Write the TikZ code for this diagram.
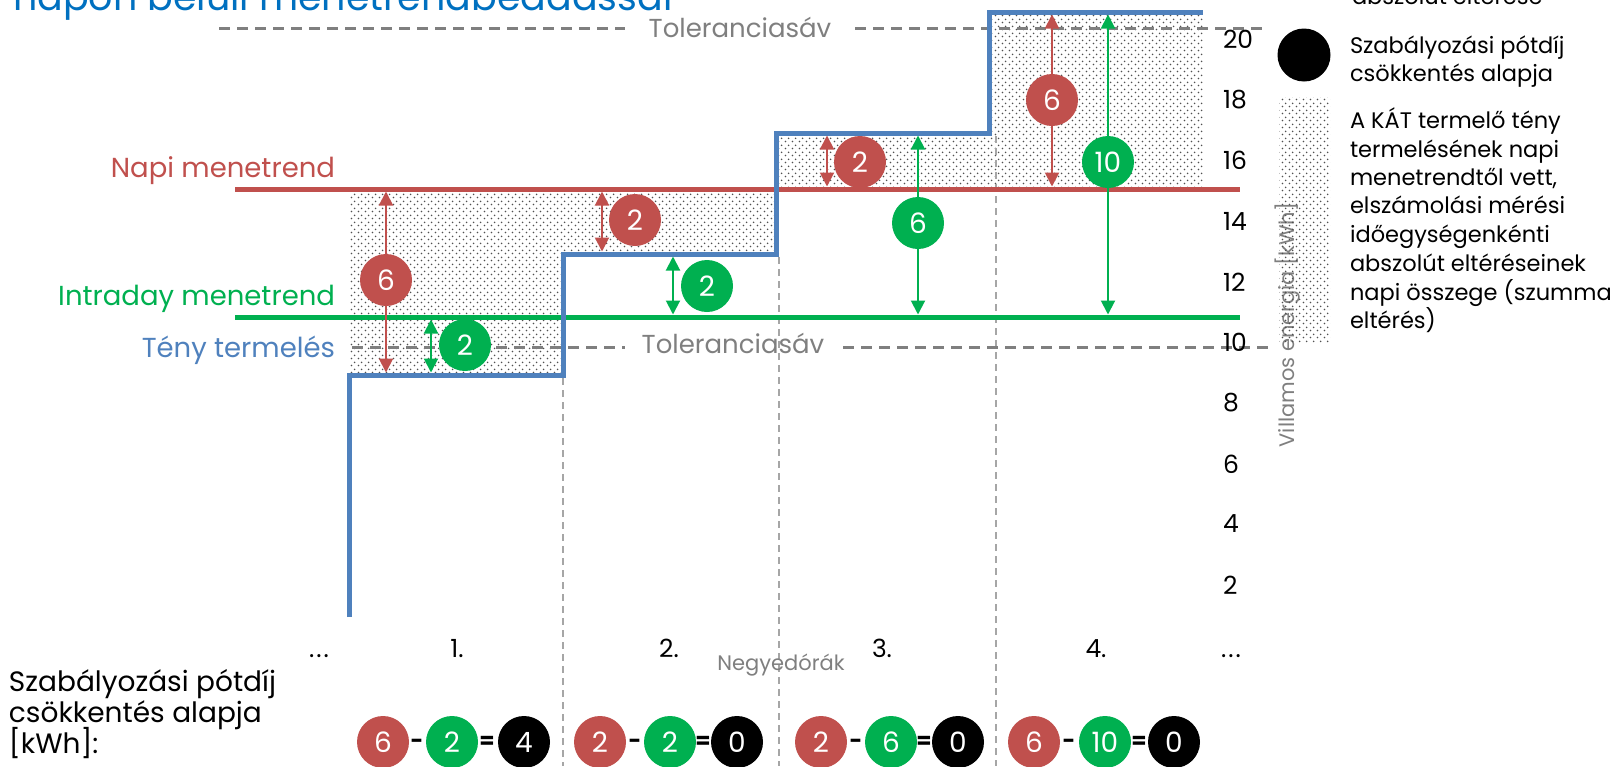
\documentclass[tikz,border=0pt]{standalone}
\usepackage{fontspec}
\setmainfont{Poppins}
\usetikzlibrary{arrows.meta,patterns.meta}
\definecolor{cRed}{HTML}{C0504D}
\definecolor{cGreen}{HTML}{00B050}
\definecolor{cBlue}{HTML}{4F81BD}
\definecolor{cTitle}{HTML}{0070C0}
\definecolor{cGray}{HTML}{7F7F7F}
\definecolor{cDiv}{HTML}{A6A6A6}
\definecolor{cDot}{HTML}{505050}
\newcommand\setfs[1]{\fontsize{#1}{#1}\selectfont}
\tikzdeclarepattern{
  name=kdots, type=colored,
  bottom left={(0pt,0pt)}, top right={(7pt,7pt)}, tile size={(7pt,7pt)},
  code={\fill[cDot] (1.75pt,1.75pt) circle (1pt); \fill[cDot] (5.25pt,5.25pt) circle (1pt);}
}
\tikzset{
  txt/.style={inner sep=0pt, outer sep=0pt},
  badge/.style={circle, fill=#1, text=white, minimum size=52pt, inner sep=0pt, font=\setfs{28}},
  dimarrow/.style={draw=#1, line width=2pt, {Triangle[length=14pt,width=14pt]}-{Triangle[length=14pt,width=14pt]}},
  dotted area/.style={pattern=kdots},
  tolline/.style={draw=cGray, line width=3pt, dash pattern=on 11pt off 7pt},
  divline/.style={draw=cDiv, line width=1.5pt, dash pattern=on 7pt off 5pt},
  schedline/.style={line width=5pt},
  op/.style={txt, font=\bfseries\setfs{22}},
  ytick/.style={txt, anchor=west, font=\setfs{25}},
  period/.style={txt, anchor=base, font=\setfs{25}},
  legtext/.style={txt, anchor=base west, font=\setfs{22.5}},
  tollabel/.style={txt, anchor=base, text=cGray, font=\setfs{26}},
  linelabel/.style={txt, anchor=base east, font=\setfs{27.5}},
  calctext/.style={txt, anchor=base west, font=\setfs{28}},
}
\begin{document}
\begin{tikzpicture}[x=1pt,y=-1pt]
\useasboundingbox (0,0) rectangle (1612,766);
\clip (0,0) rectangle (1612,766);
% dotted deviation areas
\fill[dotted area] (349,189) rectangle (563,375);
\fill[dotted area] (563,189) rectangle (776,254);
\fill[dotted area] (776,133) rectangle (989,189);
\fill[dotted area] (989,12) rectangle (1203,189);
% period dividers
\draw[divline] (563,378) -- (563,766);
\draw[divline] (779,257) -- (779,766);
\draw[divline] (996,136) -- (996,766);
% tolerance band
\draw[tolline] (219,28) -- (625,28);
\draw[tolline] (855,28) -- (1268,28);
\draw[tolline] (352,347) -- (625,347);
\draw[tolline] (843,347) -- (1268,347);
\node[tollabel] (tolTop) at (740,37) {Toleranciasáv};
\node[tollabel] (tolBot) at (733,353) {Toleranciasáv};
% schedules
\draw[schedline, cRed] (235,189) -- (1240,189);
\draw[schedline, cGreen] (235,317) -- (1240,317);
\draw[schedline, cBlue, line join=miter] (349,617) -- (349,375) -- (563,375) -- (563,254) -- (776,254) -- (776,133) -- (989,133) -- (989,12) -- (1203,12);
% line labels
\node[linelabel, text=cRed] (lNapi) at (335,177) {Napi menetrend};
\node[linelabel, text=cGreen] (lIntra) at (335,305) {Intraday menetrend};
\node[linelabel, text=cBlue] (lTeny) at (335,357) {Tény termelés};
% arrow end points
\coordinate (a1t) at (386,191.5); \coordinate (a1b) at (386,372.5);
\coordinate (b1t) at (431,319.5); \coordinate (b1b) at (431,372.5);
\coordinate (a2t) at (602,191.5); \coordinate (a2b) at (602,251.5);
\coordinate (b2t) at (673,256.5); \coordinate (b2b) at (673,314.5);
\coordinate (a3t) at (827,135.5); \coordinate (a3b) at (827,186.5);
\coordinate (b3t) at (918,135.5); \coordinate (b3b) at (918,314.5);
\coordinate (a4t) at (1052,14.5); \coordinate (a4b) at (1052,186.5);
\coordinate (b4t) at (1108,14.5); \coordinate (b4b) at (1108,314.5);
\draw[dimarrow=cRed] (a1t) -- (a1b);
\draw[dimarrow=cGreen] (b1t) -- (b1b);
\draw[dimarrow=cRed] (a2t) -- (a2b);
\draw[dimarrow=cGreen] (b2t) -- (b2b);
\draw[dimarrow=cRed] (a3t) -- (a3b);
\draw[dimarrow=cGreen] (b3t) -- (b3b);
\draw[dimarrow=cRed] (a4t) -- (a4b);
\draw[dimarrow=cGreen] (b4t) -- (b4b);
\node[badge=cRed] (c1r) at (386,280) {6};
\node[badge=cGreen] (c1g) at (465,345) {2};
\node[badge=cRed] (c2r) at (635,220) {2};
\node[badge=cGreen] (c2g) at (707,286) {2};
\node[badge=cRed] (c3r) at (860,162) {2};
\node[badge=cGreen] (c3g) at (918,223) {6};
\node[badge=cRed] (c4r) at (1052,100) {6};
\node[badge=cGreen] (c4g) at (1108,162) {10};
% y axis
\node[ytick] (y20) at (1223,39) {20};
\node[ytick] (y18) at (1223,100) {18};
\node[ytick] (y16) at (1223,160) {16};
\node[ytick] (y14) at (1223,221) {14};
\node[ytick] (y12) at (1223,282) {12};
\node[ytick] (y10) at (1223,342) {10};
\node[ytick] (y8) at (1223,403) {8};
\node[ytick] (y6) at (1223,464) {6};
\node[ytick] (y4) at (1223,524) {4};
\node[ytick] (y2) at (1223,585) {2};
\node[txt, rotate=90, text=cGray, font=\setfs{21}] (yLab) at (1288,325) {Villamos energia [kWh]};
% x axis
\node[period] (p0) at (319,657) {.\kern2pt.\kern2pt.};
\node[period] (p1) at (457,657) {1.};
\node[period] (p2) at (669,657) {2.};
\node[period] (p3) at (882,657) {3.};
\node[period] (p4) at (1096,657) {4.};
\node[period] (p5) at (1231,657) {.\kern2pt.\kern2pt.};
\node[txt, text=cGray, font=\setfs{21}] (xLab) at (781,665) {Negyedórák};
% title (cut)
\node[txt, anchor=base west, text=cTitle, font=\setfs{38}] (title) at (13,10) {napon belüli menetrendbeadással};
% legend
\node[legtext] (lg0) at (1352,4) {abszolút eltérése};
\node[circle, fill=black, minimum size=53pt, inner sep=0pt] (lgDot) at (1304,55) {};
\node[legtext] (lg1a) at (1350,53) {Szabályozási pótdíj};
\node[legtext] (lg1b) at (1350,81) {csökkentés alapja};
\fill[dotted area] (1279,97) rectangle (1330,342);
\node[legtext] (lg2a) at (1350,128) {A KÁT termelő tény};
\node[legtext] (lg2b) at (1350,157) {termelésének napi};
\node[legtext] (lg2c) at (1350,185) {menetrendtől vett,};
\node[legtext] (lg2d) at (1350,213) {elszámolási mérési};
\node[legtext] (lg2e) at (1350,242) {időegységenkénti};
\node[legtext] (lg2f) at (1350,271) {abszolút eltéréseinek};
\node[legtext] (lg2g) at (1350,300) {napi összege (szumma};
\node[legtext] (lg2h) at (1350,328) {eltérés)};
% bottom calculation
\node[calctext] (bt1) at (9,691) {Szabályozási pótdíj};
\node[calctext] (bt2) at (9,722) {csökkentés alapja};
\node[calctext] (bt3) at (9,753) {[kWh]:};
\node[badge=cRed] (e1r) at (383,742) {6};
\node[op] (e1m) at (417,744) {-};
\node[badge=cGreen] (e1g) at (452,742) {2};
\node[op] (e1e) at (487,742) {=};
\node[badge=black] (e1b) at (524,742) {4};
\node[badge=cRed] (e2r) at (600,742) {2};
\node[op] (e2m) at (635,744) {-};
\node[badge=cGreen] (e2g) at (670,742) {2};
\node[op] (e2e) at (703,742) {=};
\node[badge=black] (e2b) at (737,742) {0};
\node[badge=cRed] (e3r) at (821,742) {2};
\node[op] (e3m) at (856,744) {-};
\node[badge=cGreen] (e3g) at (891,742) {6};
\node[op] (e3e) at (924,742) {=};
\node[badge=black] (e3b) at (958,742) {0};
\node[badge=cRed] (e4r) at (1034,742) {6};
\node[op] (e4m) at (1069,744) {-};
\node[badge=cGreen] (e4g) at (1105,742) {10};
\node[op] (e4e) at (1139,742) {=};
\node[badge=black] (e4b) at (1174,742) {0};
\end{tikzpicture}
\end{document}
